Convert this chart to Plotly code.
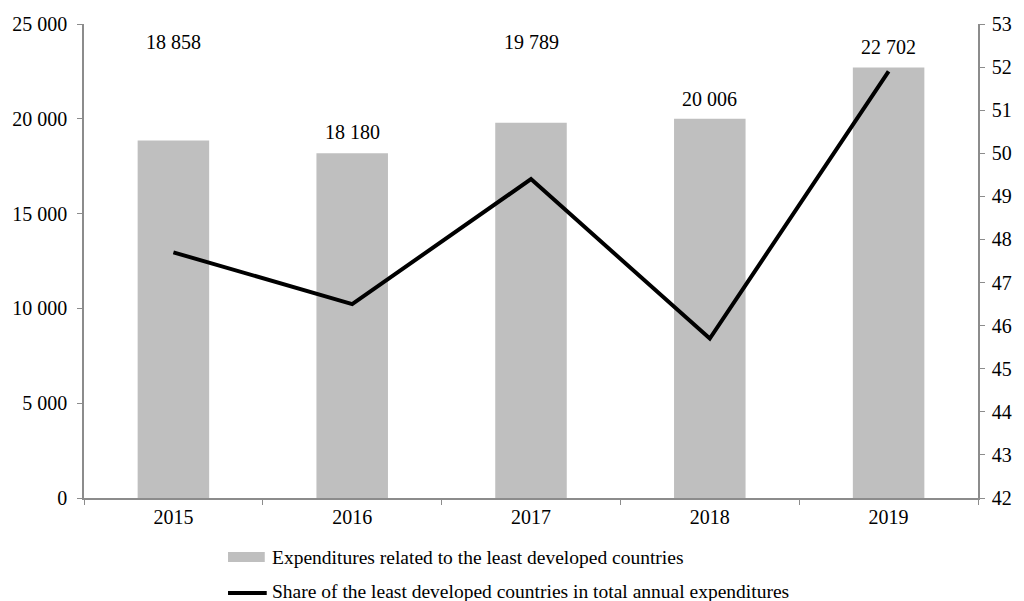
import plotly.graph_objects as go

years = ["2015", "2016", "2017", "2018", "2019"]
expenditures = [18858, 18180, 19789, 20006, 22702]
share = [47.7, 46.5, 49.4, 45.7, 51.9]

bar_name = "Expenditures related to the least developed countries"
line_name = "Share of the least developed countries in total annual expenditures"

# pixel lift of each value label above its bar top
label_lift = [98, 21, 81, 20, 21]

FONT = "Liberation Serif, Times New Roman, serif"
FS = 20
LEGEND_FS = 19.5
AXIS_GREY = "#8c8c8c"
BAR_GREY = "#bfbfbf"

fig = go.Figure()
fig.add_trace(go.Bar(
    x=years, y=expenditures, name=bar_name,
    marker=dict(color=BAR_GREY, line=dict(width=0)),
    width=0.4, yaxis="y", showlegend=False,
))
fig.add_trace(go.Scatter(
    x=years, y=share, name=line_name, mode="lines",
    line=dict(color="black", width=4), yaxis="y2", showlegend=False,
))

# value labels, placed by category index
for i, (v, lift) in enumerate(zip(expenditures, label_lift)):
    fig.add_annotation(
        x=i, y=v, xref="x", yref="y", text=f"{v:,}".replace(",", " "),
        showarrow=False, yshift=lift, font=dict(family=FONT, size=FS, color="black"),
    )

# legend drawn beneath the plot
fig.add_shape(type="rect", xref="paper", yref="paper",
              x0=0.1611, x1=0.2022, y0=-0.135, y1=-0.1139,
              fillcolor=BAR_GREY, line=dict(width=0))
fig.add_annotation(xref="paper", yref="paper", x=0.2078, y=-0.1245,
                   xanchor="left", yanchor="middle", text=bar_name, showarrow=False,
                   font=dict(family=FONT, size=LEGEND_FS, color="black"))
fig.add_shape(type="line", xref="paper", yref="paper",
              x0=0.1611, x1=0.2044, y0=-0.2004, y1=-0.2004,
              line=dict(color="black", width=4))
fig.add_annotation(xref="paper", yref="paper", x=0.2078, y=-0.1965,
                   xanchor="left", yanchor="middle", text=line_name, showarrow=False,
                   font=dict(family=FONT, size=LEGEND_FS, color="black"))

fig.update_layout(
    width=1024, height=601,
    margin=dict(l=83, r=41, t=24, b=103),
    paper_bgcolor="white", plot_bgcolor="white",
    separators=". ",
    font=dict(family=FONT, size=FS, color="black"),
    xaxis=dict(
        type="category", range=[-0.5, 4.5], showgrid=False, showline=True,
        linecolor=AXIS_GREY, linewidth=1.5,
        ticks="outside", tickson="boundaries", ticklen=5, tickcolor=AXIS_GREY,
        tickangle=0, tickfont=dict(family=FONT, size=FS, color="black"),
    ),
    yaxis=dict(
        range=[0, 25000], dtick=5000, tickformat=",d", showgrid=False,
        showline=True, linecolor=AXIS_GREY, linewidth=1.5, ticks="outside",
        ticklen=5, tickcolor=AXIS_GREY, zeroline=False, ticklabelstandoff=6,
        tickfont=dict(family=FONT, size=FS, color="black"),
    ),
    yaxis2=dict(
        range=[42, 53], dtick=1, overlaying="y", side="right", showgrid=False,
        showline=True, linecolor=AXIS_GREY, linewidth=1.5, ticks="outside",
        ticklen=5, tickcolor=AXIS_GREY, zeroline=False, ticklabelstandoff=3,
        tickfont=dict(family=FONT, size=FS, color="black"),
    ),
)

fig.write_html("out.html")
